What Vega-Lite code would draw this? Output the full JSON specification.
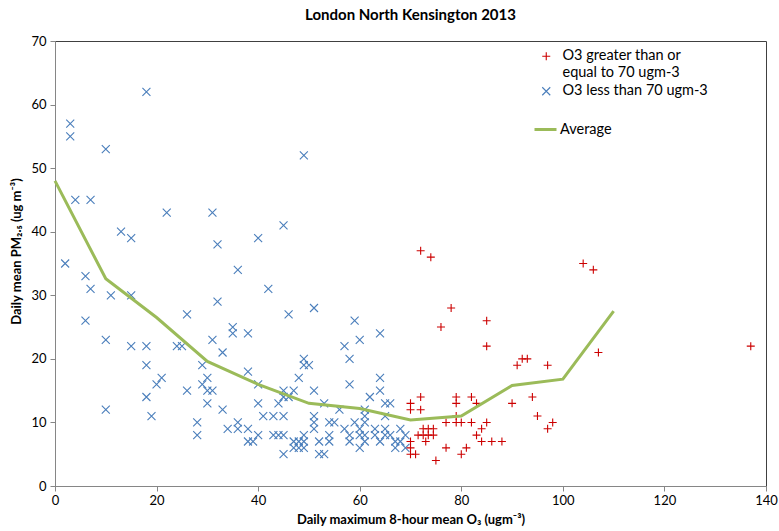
{
  "$schema": "https://vega.github.io/schema/vega-lite/v6.json",
  "width": 711,
  "height": 445,
  "autosize": "none",
  "padding": {"left": 55, "top": 41, "right": 13, "bottom": 45},
  "background": "white",
  "title": {"text": "London North Kensington 2013", "font": "Lato", "fontSize": 15, "fontWeight": "bold", "color": "#000", "offset": 12},
  "config": {
    "view": {"stroke": "#404040", "strokeWidth": 1},
    "axis": {"grid": false, "domainColor": "#868686", "tickColor": "#868686", "tickSize": 5, "labelColor": "#000", "labelFont": "Lato", "labelFontSize": 13, "titleFont": "Lato", "titleFontSize": 13, "titleFontWeight": "bold", "titleColor": "#000", "labelFlush": false},
    "legend": {"labelFont": "Lato", "labelFontSize": 14.5, "labelColor": "#000", "padding": 0}
  },
  "datasets": {
    "points": [
      {"o3": 18, "pm25": 62, "group": "O3 less than 70 ugm-3"},
      {"o3": 3, "pm25": 57, "group": "O3 less than 70 ugm-3"},
      {"o3": 3, "pm25": 55, "group": "O3 less than 70 ugm-3"},
      {"o3": 10, "pm25": 53, "group": "O3 less than 70 ugm-3"},
      {"o3": 4, "pm25": 45, "group": "O3 less than 70 ugm-3"},
      {"o3": 7, "pm25": 45, "group": "O3 less than 70 ugm-3"},
      {"o3": 22, "pm25": 43, "group": "O3 less than 70 ugm-3"},
      {"o3": 31, "pm25": 43, "group": "O3 less than 70 ugm-3"},
      {"o3": 13, "pm25": 40, "group": "O3 less than 70 ugm-3"},
      {"o3": 15, "pm25": 39, "group": "O3 less than 70 ugm-3"},
      {"o3": 32, "pm25": 38, "group": "O3 less than 70 ugm-3"},
      {"o3": 2, "pm25": 35, "group": "O3 less than 70 ugm-3"},
      {"o3": 6, "pm25": 33, "group": "O3 less than 70 ugm-3"},
      {"o3": 36, "pm25": 34, "group": "O3 less than 70 ugm-3"},
      {"o3": 7, "pm25": 31, "group": "O3 less than 70 ugm-3"},
      {"o3": 11, "pm25": 30, "group": "O3 less than 70 ugm-3"},
      {"o3": 15, "pm25": 30, "group": "O3 less than 70 ugm-3"},
      {"o3": 32, "pm25": 29, "group": "O3 less than 70 ugm-3"},
      {"o3": 26, "pm25": 27, "group": "O3 less than 70 ugm-3"},
      {"o3": 6, "pm25": 26, "group": "O3 less than 70 ugm-3"},
      {"o3": 10, "pm25": 23, "group": "O3 less than 70 ugm-3"},
      {"o3": 15, "pm25": 22, "group": "O3 less than 70 ugm-3"},
      {"o3": 18, "pm25": 22, "group": "O3 less than 70 ugm-3"},
      {"o3": 24, "pm25": 22, "group": "O3 less than 70 ugm-3"},
      {"o3": 25, "pm25": 22, "group": "O3 less than 70 ugm-3"},
      {"o3": 31, "pm25": 23, "group": "O3 less than 70 ugm-3"},
      {"o3": 35, "pm25": 25, "group": "O3 less than 70 ugm-3"},
      {"o3": 35, "pm25": 24, "group": "O3 less than 70 ugm-3"},
      {"o3": 38, "pm25": 24, "group": "O3 less than 70 ugm-3"},
      {"o3": 33, "pm25": 21, "group": "O3 less than 70 ugm-3"},
      {"o3": 18, "pm25": 19, "group": "O3 less than 70 ugm-3"},
      {"o3": 29, "pm25": 19, "group": "O3 less than 70 ugm-3"},
      {"o3": 21, "pm25": 17, "group": "O3 less than 70 ugm-3"},
      {"o3": 20, "pm25": 16, "group": "O3 less than 70 ugm-3"},
      {"o3": 30, "pm25": 17, "group": "O3 less than 70 ugm-3"},
      {"o3": 29, "pm25": 16, "group": "O3 less than 70 ugm-3"},
      {"o3": 30, "pm25": 15, "group": "O3 less than 70 ugm-3"},
      {"o3": 31, "pm25": 15, "group": "O3 less than 70 ugm-3"},
      {"o3": 26, "pm25": 15, "group": "O3 less than 70 ugm-3"},
      {"o3": 38, "pm25": 18, "group": "O3 less than 70 ugm-3"},
      {"o3": 18, "pm25": 14, "group": "O3 less than 70 ugm-3"},
      {"o3": 30, "pm25": 13, "group": "O3 less than 70 ugm-3"},
      {"o3": 33, "pm25": 12, "group": "O3 less than 70 ugm-3"},
      {"o3": 10, "pm25": 12, "group": "O3 less than 70 ugm-3"},
      {"o3": 19, "pm25": 11, "group": "O3 less than 70 ugm-3"},
      {"o3": 28, "pm25": 10, "group": "O3 less than 70 ugm-3"},
      {"o3": 28, "pm25": 8, "group": "O3 less than 70 ugm-3"},
      {"o3": 34, "pm25": 9, "group": "O3 less than 70 ugm-3"},
      {"o3": 36, "pm25": 9, "group": "O3 less than 70 ugm-3"},
      {"o3": 36, "pm25": 10, "group": "O3 less than 70 ugm-3"},
      {"o3": 38, "pm25": 9, "group": "O3 less than 70 ugm-3"},
      {"o3": 38, "pm25": 7, "group": "O3 less than 70 ugm-3"},
      {"o3": 49, "pm25": 52, "group": "O3 less than 70 ugm-3"},
      {"o3": 45, "pm25": 41, "group": "O3 less than 70 ugm-3"},
      {"o3": 40, "pm25": 39, "group": "O3 less than 70 ugm-3"},
      {"o3": 42, "pm25": 31, "group": "O3 less than 70 ugm-3"},
      {"o3": 51, "pm25": 28, "group": "O3 less than 70 ugm-3"},
      {"o3": 46, "pm25": 27, "group": "O3 less than 70 ugm-3"},
      {"o3": 59, "pm25": 26, "group": "O3 less than 70 ugm-3"},
      {"o3": 60, "pm25": 23, "group": "O3 less than 70 ugm-3"},
      {"o3": 64, "pm25": 24, "group": "O3 less than 70 ugm-3"},
      {"o3": 57, "pm25": 22, "group": "O3 less than 70 ugm-3"},
      {"o3": 58, "pm25": 20, "group": "O3 less than 70 ugm-3"},
      {"o3": 49, "pm25": 20, "group": "O3 less than 70 ugm-3"},
      {"o3": 49, "pm25": 19, "group": "O3 less than 70 ugm-3"},
      {"o3": 50, "pm25": 19, "group": "O3 less than 70 ugm-3"},
      {"o3": 48, "pm25": 17, "group": "O3 less than 70 ugm-3"},
      {"o3": 58, "pm25": 16, "group": "O3 less than 70 ugm-3"},
      {"o3": 64, "pm25": 17, "group": "O3 less than 70 ugm-3"},
      {"o3": 64, "pm25": 15, "group": "O3 less than 70 ugm-3"},
      {"o3": 40, "pm25": 16, "group": "O3 less than 70 ugm-3"},
      {"o3": 45, "pm25": 15, "group": "O3 less than 70 ugm-3"},
      {"o3": 45, "pm25": 14, "group": "O3 less than 70 ugm-3"},
      {"o3": 47, "pm25": 15, "group": "O3 less than 70 ugm-3"},
      {"o3": 46, "pm25": 14, "group": "O3 less than 70 ugm-3"},
      {"o3": 44, "pm25": 13, "group": "O3 less than 70 ugm-3"},
      {"o3": 40, "pm25": 13, "group": "O3 less than 70 ugm-3"},
      {"o3": 51, "pm25": 15, "group": "O3 less than 70 ugm-3"},
      {"o3": 53, "pm25": 13, "group": "O3 less than 70 ugm-3"},
      {"o3": 56, "pm25": 12, "group": "O3 less than 70 ugm-3"},
      {"o3": 62, "pm25": 14, "group": "O3 less than 70 ugm-3"},
      {"o3": 65, "pm25": 13, "group": "O3 less than 70 ugm-3"},
      {"o3": 66, "pm25": 13, "group": "O3 less than 70 ugm-3"},
      {"o3": 61, "pm25": 12, "group": "O3 less than 70 ugm-3"},
      {"o3": 65, "pm25": 11, "group": "O3 less than 70 ugm-3"},
      {"o3": 41, "pm25": 11, "group": "O3 less than 70 ugm-3"},
      {"o3": 43, "pm25": 11, "group": "O3 less than 70 ugm-3"},
      {"o3": 45, "pm25": 11, "group": "O3 less than 70 ugm-3"},
      {"o3": 51, "pm25": 11, "group": "O3 less than 70 ugm-3"},
      {"o3": 51, "pm25": 10, "group": "O3 less than 70 ugm-3"},
      {"o3": 51, "pm25": 9, "group": "O3 less than 70 ugm-3"},
      {"o3": 54, "pm25": 10, "group": "O3 less than 70 ugm-3"},
      {"o3": 55, "pm25": 10, "group": "O3 less than 70 ugm-3"},
      {"o3": 61, "pm25": 11, "group": "O3 less than 70 ugm-3"},
      {"o3": 59, "pm25": 10, "group": "O3 less than 70 ugm-3"},
      {"o3": 60, "pm25": 9, "group": "O3 less than 70 ugm-3"},
      {"o3": 61, "pm25": 10, "group": "O3 less than 70 ugm-3"},
      {"o3": 57, "pm25": 9, "group": "O3 less than 70 ugm-3"},
      {"o3": 63, "pm25": 9, "group": "O3 less than 70 ugm-3"},
      {"o3": 65, "pm25": 9, "group": "O3 less than 70 ugm-3"},
      {"o3": 68, "pm25": 9, "group": "O3 less than 70 ugm-3"},
      {"o3": 39, "pm25": 7, "group": "O3 less than 70 ugm-3"},
      {"o3": 43, "pm25": 8, "group": "O3 less than 70 ugm-3"},
      {"o3": 44, "pm25": 8, "group": "O3 less than 70 ugm-3"},
      {"o3": 45, "pm25": 8, "group": "O3 less than 70 ugm-3"},
      {"o3": 40, "pm25": 8, "group": "O3 less than 70 ugm-3"},
      {"o3": 49, "pm25": 8, "group": "O3 less than 70 ugm-3"},
      {"o3": 54, "pm25": 8, "group": "O3 less than 70 ugm-3"},
      {"o3": 58, "pm25": 8, "group": "O3 less than 70 ugm-3"},
      {"o3": 60, "pm25": 8, "group": "O3 less than 70 ugm-3"},
      {"o3": 61, "pm25": 8, "group": "O3 less than 70 ugm-3"},
      {"o3": 63, "pm25": 8, "group": "O3 less than 70 ugm-3"},
      {"o3": 65, "pm25": 8, "group": "O3 less than 70 ugm-3"},
      {"o3": 66, "pm25": 8, "group": "O3 less than 70 ugm-3"},
      {"o3": 69, "pm25": 8, "group": "O3 less than 70 ugm-3"},
      {"o3": 47, "pm25": 7, "group": "O3 less than 70 ugm-3"},
      {"o3": 48, "pm25": 7, "group": "O3 less than 70 ugm-3"},
      {"o3": 49, "pm25": 7, "group": "O3 less than 70 ugm-3"},
      {"o3": 52, "pm25": 7, "group": "O3 less than 70 ugm-3"},
      {"o3": 54, "pm25": 7, "group": "O3 less than 70 ugm-3"},
      {"o3": 58, "pm25": 7, "group": "O3 less than 70 ugm-3"},
      {"o3": 60, "pm25": 6, "group": "O3 less than 70 ugm-3"},
      {"o3": 61, "pm25": 7, "group": "O3 less than 70 ugm-3"},
      {"o3": 64, "pm25": 7, "group": "O3 less than 70 ugm-3"},
      {"o3": 67, "pm25": 7, "group": "O3 less than 70 ugm-3"},
      {"o3": 68, "pm25": 7, "group": "O3 less than 70 ugm-3"},
      {"o3": 47, "pm25": 6, "group": "O3 less than 70 ugm-3"},
      {"o3": 48, "pm25": 6, "group": "O3 less than 70 ugm-3"},
      {"o3": 49, "pm25": 6, "group": "O3 less than 70 ugm-3"},
      {"o3": 67, "pm25": 6, "group": "O3 less than 70 ugm-3"},
      {"o3": 69, "pm25": 6, "group": "O3 less than 70 ugm-3"},
      {"o3": 45, "pm25": 5, "group": "O3 less than 70 ugm-3"},
      {"o3": 52, "pm25": 5, "group": "O3 less than 70 ugm-3"},
      {"o3": 53, "pm25": 5, "group": "O3 less than 70 ugm-3"},
      {"o3": 72, "pm25": 37, "group": "O3 greater than or equal to 70 ugm-3"},
      {"o3": 74, "pm25": 36, "group": "O3 greater than or equal to 70 ugm-3"},
      {"o3": 78, "pm25": 28, "group": "O3 greater than or equal to 70 ugm-3"},
      {"o3": 76, "pm25": 25, "group": "O3 greater than or equal to 70 ugm-3"},
      {"o3": 85, "pm25": 26, "group": "O3 greater than or equal to 70 ugm-3"},
      {"o3": 85, "pm25": 22, "group": "O3 greater than or equal to 70 ugm-3"},
      {"o3": 104, "pm25": 35, "group": "O3 greater than or equal to 70 ugm-3"},
      {"o3": 106, "pm25": 34, "group": "O3 greater than or equal to 70 ugm-3"},
      {"o3": 107, "pm25": 21, "group": "O3 greater than or equal to 70 ugm-3"},
      {"o3": 137, "pm25": 22, "group": "O3 greater than or equal to 70 ugm-3"},
      {"o3": 91, "pm25": 19, "group": "O3 greater than or equal to 70 ugm-3"},
      {"o3": 92, "pm25": 20, "group": "O3 greater than or equal to 70 ugm-3"},
      {"o3": 93, "pm25": 20, "group": "O3 greater than or equal to 70 ugm-3"},
      {"o3": 97, "pm25": 19, "group": "O3 greater than or equal to 70 ugm-3"},
      {"o3": 94, "pm25": 14, "group": "O3 greater than or equal to 70 ugm-3"},
      {"o3": 90, "pm25": 13, "group": "O3 greater than or equal to 70 ugm-3"},
      {"o3": 95, "pm25": 11, "group": "O3 greater than or equal to 70 ugm-3"},
      {"o3": 98, "pm25": 10, "group": "O3 greater than or equal to 70 ugm-3"},
      {"o3": 97, "pm25": 9, "group": "O3 greater than or equal to 70 ugm-3"},
      {"o3": 70, "pm25": 13, "group": "O3 greater than or equal to 70 ugm-3"},
      {"o3": 70, "pm25": 12, "group": "O3 greater than or equal to 70 ugm-3"},
      {"o3": 72, "pm25": 14, "group": "O3 greater than or equal to 70 ugm-3"},
      {"o3": 72, "pm25": 12, "group": "O3 greater than or equal to 70 ugm-3"},
      {"o3": 79, "pm25": 14, "group": "O3 greater than or equal to 70 ugm-3"},
      {"o3": 79, "pm25": 13, "group": "O3 greater than or equal to 70 ugm-3"},
      {"o3": 82, "pm25": 14, "group": "O3 greater than or equal to 70 ugm-3"},
      {"o3": 83, "pm25": 13, "group": "O3 greater than or equal to 70 ugm-3"},
      {"o3": 79, "pm25": 11, "group": "O3 greater than or equal to 70 ugm-3"},
      {"o3": 80, "pm25": 10, "group": "O3 greater than or equal to 70 ugm-3"},
      {"o3": 79, "pm25": 10, "group": "O3 greater than or equal to 70 ugm-3"},
      {"o3": 77, "pm25": 10, "group": "O3 greater than or equal to 70 ugm-3"},
      {"o3": 82, "pm25": 10, "group": "O3 greater than or equal to 70 ugm-3"},
      {"o3": 85, "pm25": 10, "group": "O3 greater than or equal to 70 ugm-3"},
      {"o3": 84, "pm25": 9, "group": "O3 greater than or equal to 70 ugm-3"},
      {"o3": 83, "pm25": 8, "group": "O3 greater than or equal to 70 ugm-3"},
      {"o3": 84, "pm25": 7, "group": "O3 greater than or equal to 70 ugm-3"},
      {"o3": 86, "pm25": 7, "group": "O3 greater than or equal to 70 ugm-3"},
      {"o3": 88, "pm25": 7, "group": "O3 greater than or equal to 70 ugm-3"},
      {"o3": 72.5, "pm25": 9, "group": "O3 greater than or equal to 70 ugm-3"},
      {"o3": 73.5, "pm25": 9, "group": "O3 greater than or equal to 70 ugm-3"},
      {"o3": 74.5, "pm25": 9, "group": "O3 greater than or equal to 70 ugm-3"},
      {"o3": 71.5, "pm25": 8, "group": "O3 greater than or equal to 70 ugm-3"},
      {"o3": 72.5, "pm25": 8, "group": "O3 greater than or equal to 70 ugm-3"},
      {"o3": 73.5, "pm25": 8, "group": "O3 greater than or equal to 70 ugm-3"},
      {"o3": 74.5, "pm25": 8, "group": "O3 greater than or equal to 70 ugm-3"},
      {"o3": 70, "pm25": 7, "group": "O3 greater than or equal to 70 ugm-3"},
      {"o3": 73, "pm25": 7, "group": "O3 greater than or equal to 70 ugm-3"},
      {"o3": 70, "pm25": 6, "group": "O3 greater than or equal to 70 ugm-3"},
      {"o3": 70, "pm25": 5, "group": "O3 greater than or equal to 70 ugm-3"},
      {"o3": 71, "pm25": 5, "group": "O3 greater than or equal to 70 ugm-3"},
      {"o3": 77, "pm25": 6, "group": "O3 greater than or equal to 70 ugm-3"},
      {"o3": 75, "pm25": 4, "group": "O3 greater than or equal to 70 ugm-3"},
      {"o3": 80, "pm25": 5, "group": "O3 greater than or equal to 70 ugm-3"},
      {"o3": 81, "pm25": 6, "group": "O3 greater than or equal to 70 ugm-3"}
    ],
    "avg": [
      {"o3": 0, "pm25": 48},
      {"o3": 10, "pm25": 32.6},
      {"o3": 20, "pm25": 26.5},
      {"o3": 30, "pm25": 19.6},
      {"o3": 40, "pm25": 16},
      {"o3": 50, "pm25": 13},
      {"o3": 60, "pm25": 12.2},
      {"o3": 70, "pm25": 10.4},
      {"o3": 80, "pm25": 11},
      {"o3": 90, "pm25": 15.8},
      {"o3": 100, "pm25": 16.8},
      {"o3": 110, "pm25": 27.5}
    ]
  },
  "layer": [
    {
      "data": {"name": "points"},
      "mark": {"type": "point", "filled": false, "strokeWidth": 1.1, "size": 64, "opacity": 1},
      "encoding": {
        "x": {"field": "o3", "type": "quantitative", "scale": {"domain": [0, 140], "nice": false, "zero": true},
          "axis": {"values": [0, 20, 40, 60, 80, 100, 120, 140], "title": "Daily maximum 8-hour mean O₃ (ugm⁻³)", "labelPadding": 3, "titlePadding": 6}},
        "y": {"field": "pm25", "type": "quantitative", "scale": {"domain": [0, 70], "nice": false},
          "axis": {"values": [0, 10, 20, 30, 40, 50, 60, 70], "title": "Daily mean PM₂.₅ (ug m⁻³)", "labelPadding": 4, "titlePadding": 7, "titleY": 210}},
        "color": {"field": "group", "type": "nominal",
          "scale": {"domain": ["O3 greater than or equal to 70 ugm-3", "O3 less than 70 ugm-3"], "range": ["#cc0000", "#4a7ebb"]},
          "legend": {"title": null, "orient": "none", "legendX": 484, "legendY": 8, "symbolSize": 64, "symbolStrokeWidth": 1.1, "labelOffset": 9, "rowPadding": 3,
            "labelExpr": "datum.label == 'O3 greater than or equal to 70 ugm-3' ? ['O3 greater than or', 'equal to 70 ugm-3'] : datum.label",
            "encode": {"labels": {"update": {"lineHeight": {"value": 19.5}}}}}},
        "shape": {"field": "group", "type": "nominal",
          "scale": {"domain": ["O3 greater than or equal to 70 ugm-3", "O3 less than 70 ugm-3"], "range": ["M-1,0L1,0M0,-1L0,1", "M-1,-1L1,1M-1,1L1,-1"]},
          "legend": {"title": null, "orient": "none", "legendX": 484, "legendY": 8, "symbolSize": 64, "symbolStrokeWidth": 1.1, "labelOffset": 9, "rowPadding": 3,
            "labelExpr": "datum.label == 'O3 greater than or equal to 70 ugm-3' ? ['O3 greater than or', 'equal to 70 ugm-3'] : datum.label",
            "encode": {"labels": {"update": {"lineHeight": {"value": 19.5}}}}}}
      }
    },
    {
      "data": {"name": "avg"},
      "mark": {"type": "line", "strokeWidth": 3},
      "encoding": {
        "x": {"field": "o3", "type": "quantitative"},
        "y": {"field": "pm25", "type": "quantitative"},
        "stroke": {"datum": "Average", "type": "nominal", "scale": {"range": ["#9bbb59"]},
          "legend": {"title": null, "orient": "none", "legendX": 478, "legendY": 76, "symbolType": "stroke", "symbolSize": 484, "symbolStrokeWidth": 3, "labelOffset": 2}}
      }
    }
  ]
}
